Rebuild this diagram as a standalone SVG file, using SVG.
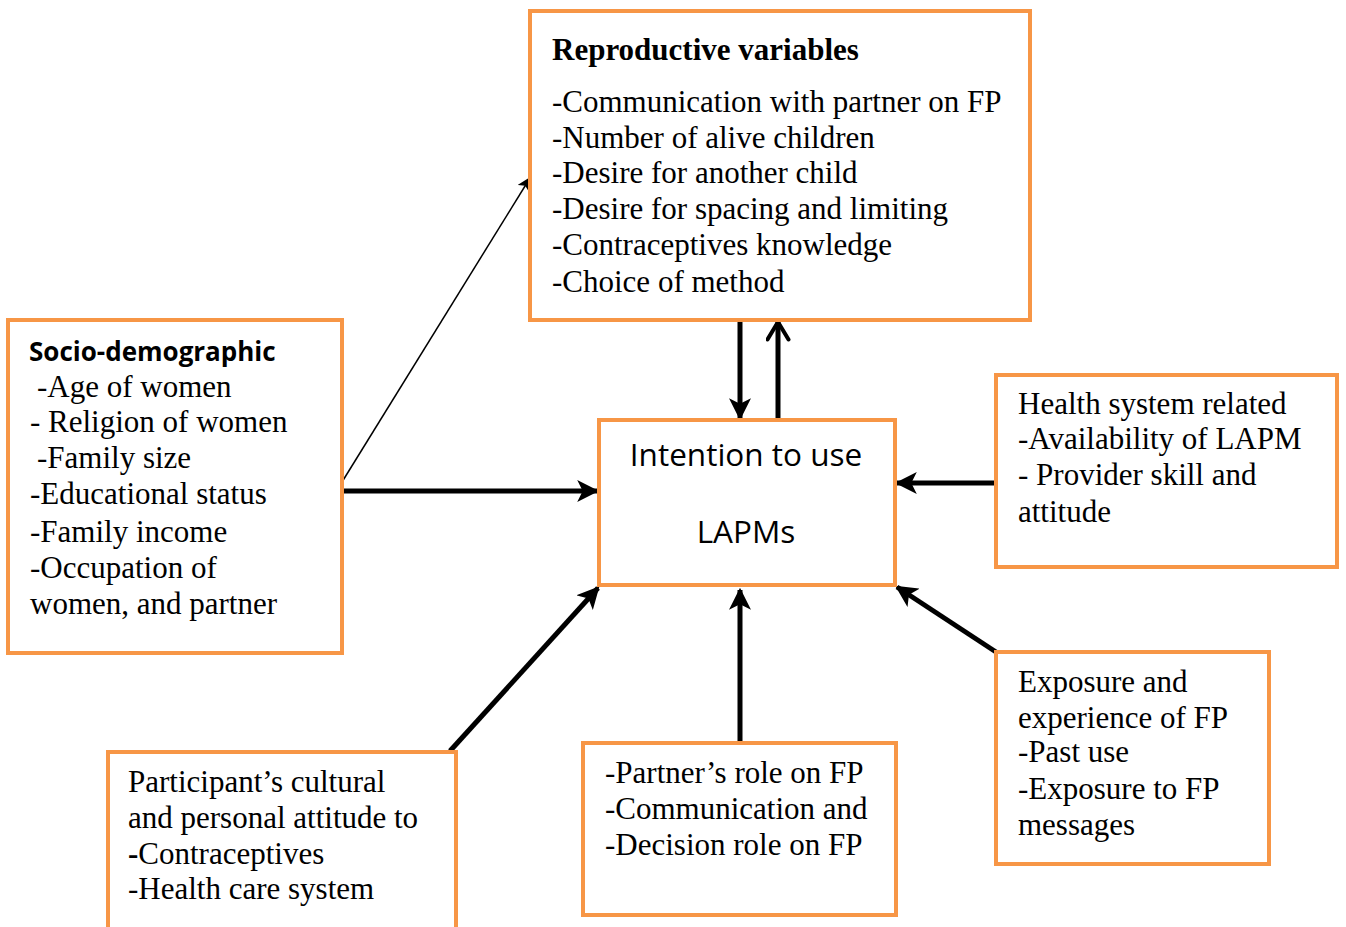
<svg xmlns="http://www.w3.org/2000/svg" width="1346" height="927" viewBox="0 0 1346 927">
<defs>
<style>
.box{fill:#fff;stroke:#F79646;stroke-width:4}
.t{font-family:"Liberation Serif","Times New Roman",serif;font-size:31px;fill:#000}
.b{font-weight:bold}
.s{font-family:"Open Sans","Liberation Sans",sans-serif;fill:#000}
.c{stroke:#000;fill:none}
</style>
<marker id="ah" viewBox="0 0 10 10" refX="9" refY="5" markerWidth="4.4" markerHeight="4.4" orient="auto" markerUnits="strokeWidth">
<path d="M0,0 L10,5 L0,10 L2.5,5 Z" fill="#000"/>
</marker>
<marker id="ahThin" viewBox="0 0 10 10" refX="9" refY="5" markerWidth="14" markerHeight="14" orient="auto" markerUnits="userSpaceOnUse">
<path d="M0,0 L10,5 L0,10 L2.5,5 Z" fill="#000"/>
</marker>
<marker id="open" viewBox="0 0 10 10" refX="8.5" refY="5" markerWidth="5" markerHeight="5" orient="auto" markerUnits="strokeWidth">
<path d="M1.5,0.8 L8.5,5 L1.5,9.2" fill="none" stroke="#000" stroke-width="1.6" stroke-linecap="round" stroke-linejoin="round"/>
</marker>
</defs>
<rect width="1346" height="927" fill="#fff"/>

<g id="connectors">
<line class="c" x1="342" y1="482" x2="530" y2="178" stroke-width="1.5" marker-end="url(#ahThin)"/>
<line class="c" x1="342" y1="491" x2="597" y2="491" stroke-width="5" marker-end="url(#ah)"/>
<line class="c" x1="740" y1="321" x2="740" y2="418" stroke-width="5" marker-end="url(#ah)"/>
<line class="c" x1="778" y1="418" x2="778" y2="322" stroke-width="5" marker-end="url(#open)"/>
<line class="c" x1="996" y1="483" x2="897" y2="483" stroke-width="5" marker-end="url(#ah)"/>
<line class="c" x1="450" y1="751" x2="598" y2="588" stroke-width="5" marker-end="url(#ah)"/>
<line class="c" x1="740" y1="741" x2="740" y2="590" stroke-width="5" marker-end="url(#ah)"/>
<line class="c" x1="996" y1="652" x2="897" y2="587" stroke-width="5" marker-end="url(#ah)"/>
</g>

<g id="reproductive">
<rect class="box" x="530" y="11" width="500" height="309"/>
<text class="t b" x="552" y="60">Reproductive variables</text>
<text class="t" x="552" y="112">-Communication with partner on FP</text>
<text class="t" x="552" y="148">-Number of alive children</text>
<text class="t" x="552" y="183">-Desire for another child</text>
<text class="t" x="552" y="219">-Desire for spacing and limiting</text>
<text class="t" x="552" y="255">-Contraceptives knowledge</text>
<text class="t" x="552" y="292">-Choice of method</text>
</g>

<g id="socio">
<rect class="box" x="8" y="320" width="334" height="333"/>
<text class="s b" x="29" y="361" font-size="26">Socio-demographic</text>
<text class="t" x="37" y="397">-Age of women</text>
<text class="t" x="30" y="432">- Religion of women</text>
<text class="t" x="37" y="468">-Family size</text>
<text class="t" x="30" y="504">-Educational status</text>
<text class="t" x="30" y="542">-Family income</text>
<text class="t" x="30" y="578">-Occupation of</text>
<text class="t" x="30" y="614">women, and partner</text>
</g>

<g id="intention">
<rect class="box" x="599" y="420" width="296" height="165"/>
<text class="s" x="746" y="466" font-size="31.5" text-anchor="middle">Intention to use</text>
<text class="s" x="746" y="543" font-size="31.5" text-anchor="middle">LAPMs</text>
</g>

<g id="health">
<rect class="box" x="996" y="375" width="341" height="192"/>
<text class="t" x="1018" y="414">Health system related</text>
<text class="t" x="1018" y="449">-Availability of LAPM</text>
<text class="t" x="1018" y="485">- Provider skill and</text>
<text class="t" x="1018" y="522">attitude</text>
</g>

<g id="exposure">
<rect class="box" x="996" y="652" width="273" height="212"/>
<text class="t" x="1018" y="692">Exposure and</text>
<text class="t" x="1018" y="728">experience of FP</text>
<text class="t" x="1018" y="762">-Past use</text>
<text class="t" x="1018" y="799">-Exposure to FP</text>
<text class="t" x="1018" y="835">messages</text>
</g>

<g id="partner">
<rect class="box" x="583" y="743" width="313" height="172"/>
<text class="t" x="605" y="783">-Partner’s role on FP</text>
<text class="t" x="605" y="819">-Communication and</text>
<text class="t" x="605" y="855">-Decision role on FP</text>
</g>

<g id="participant">
<rect class="box" x="108" y="752" width="348" height="190"/>
<text class="t" x="128" y="792">Participant’s cultural</text>
<text class="t" x="128" y="828">and personal attitude to</text>
<text class="t" x="128" y="864"><tspan class="b">-</tspan>Contraceptives</text>
<text class="t" x="128" y="899">-Health care system</text>
</g>
</svg>
